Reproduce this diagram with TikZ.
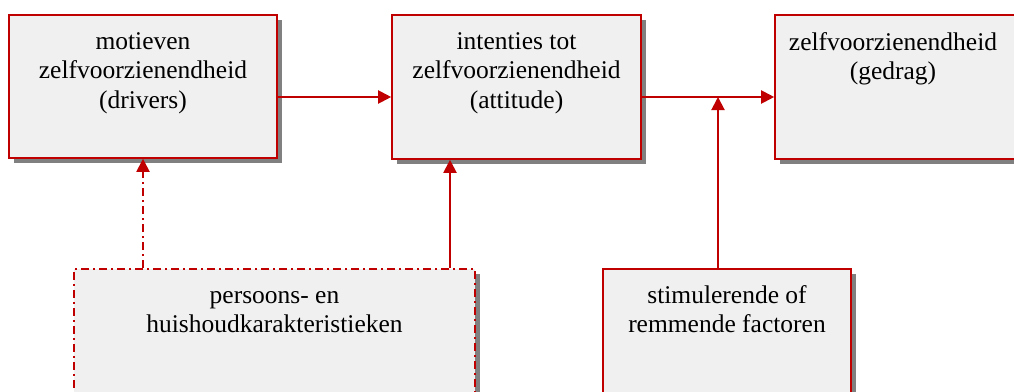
\documentclass[tikz,border=0pt]{standalone}
\usepackage{fontspec}
\setmainfont{Liberation Serif}
\usetikzlibrary{shadows,arrows.meta}
\definecolor{bred}{HTML}{C00000}
\definecolor{bfill}{HTML}{F0F0F0}
\definecolor{bshadow}{HTML}{808080}
\tikzset{
  box/.style={draw=bred, line width=1.6pt, fill=bfill, rectangle, inner sep=0pt,
    drop shadow={shadow xshift=5pt, shadow yshift=-5pt, fill=bshadow, opacity=1}},
  dbox/.style={box, dash pattern=on 8pt off 4pt on 2pt off 4pt},
  txt/.style={anchor=north, align=center, inner sep=0pt, font=\fontsize{25.5}{29.3}\selectfont, text=black},
  conn/.style={draw=bred, line width=2pt, -{Triangle[length=13pt,width=13pt]}},
  dconn/.style={conn, dash pattern=on 8pt off 4pt on 2pt off 4pt}
}
\begin{document}
\begin{tikzpicture}[x=1pt,y=-1pt]
\useasboundingbox (0,0) rectangle (1014,391);
\node[box, minimum width=268pt, minimum height=143pt] (b1) at (143,86.5) {};
\node[box, minimum width=249pt, minimum height=144pt] (b2) at (516.5,87) {};
\node[box, minimum width=245pt, minimum height=144pt] (b3) at (897.5,87) {};
\node[dbox, minimum width=401pt, minimum height=131pt] (b4) at (274.5,334.5) {};
\node[box, minimum width=248pt, minimum height=131pt] (b5) at (727,334.5) {};

\node[txt] (t1) at ([yshift=-14.5pt]b1.north) {\strut motieven\\zelfvoorzienendheid\\(drivers)};
\node[txt] (t2) at ([yshift=-14.5pt]b2.north) {\strut intenties tot\\zelfvoorzienendheid\\(attitude)};
\node[txt] (t3) at ([yshift=-14.5pt]893,15) {\strut zelfvoorzienendheid\\(gedrag)};
\node[txt] (t4) at ([yshift=-14.5pt]b4.north) {\strut persoons- en\\huishoudkarakteristieken};
\node[txt] (t5) at ([yshift=-14.5pt]b5.north) {\strut stimulerende of\\remmende factoren};

\coordinate (m1) at (b1.east |- 0,97);
\coordinate (m2) at (b2.east |- 0,97);
\coordinate (j) at (718,97);
\draw[conn] (m1) -- (b2.west |- m1);
\draw[conn] (m2) -- (b3.west |- m2);
\draw[conn] (b5.north -| j) -- (j);
\draw[dconn] (b4.north -| 143,0) -- (b1.south -| 143,0);
\draw[conn] (b4.north -| 450,0) -- (b2.south -| 450,0);
\end{tikzpicture}
\end{document}
